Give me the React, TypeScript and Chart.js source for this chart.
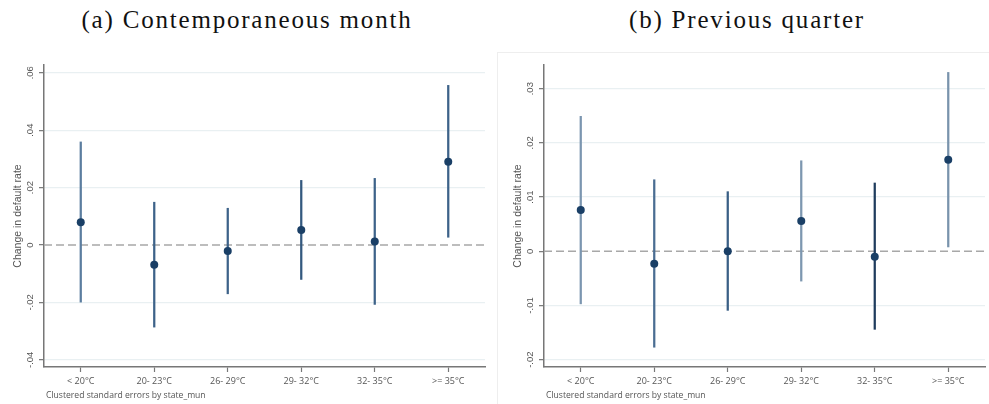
import React, { useEffect, useRef } from 'react';
import { Chart, registerables } from 'chart.js';
Chart.register(...registerables);

const categories = ['< 20°C', '20- 23°C', '26- 29°C', '29- 32°C', '32- 35°C', '>= 35°C'];

const pointA = [0.0079, -0.0069, -0.0021, 0.0052, 0.0012, 0.029];
const lowA = [-0.0199, -0.0286, -0.017, -0.012, -0.0207, 0.0027];
const highA = [0.0359, 0.0149, 0.0128, 0.0225, 0.0232, 0.0556];

const pointB = [0.0076, -0.0023, 0.0, 0.0056, -0.001, 0.0169];
const lowB = [-0.0097, -0.0177, -0.0109, -0.0055, -0.0144, 0.0008];
const highB = [0.0249, 0.0132, 0.011, 0.0167, 0.0126, 0.033];

const yTicksA = [-0.04, -0.02, 0, 0.02, 0.04, 0.06];
const yTickLabelsA = ['-.04', '-.02', '0', '.02', '.04', '.06'];
const yRangeA = [-0.0425, 0.0627];

const yTicksB = [-0.02, -0.01, 0, 0.01, 0.02, 0.03];
const yTickLabelsB = ['-.02', '-.01', '0', '.01', '.02', '.03'];
const yRangeB = [-0.02135, 0.03437];

const titleA = '(a) Contemporaneous month';
const titleB = '(b) Previous quarter';
const yTitle = 'Change in default rate';
const note = 'Clustered standard errors by state_mun';

const barColorsA = ['#5b7d9f', '#3d6289', '#3d6289', '#34597f', '#3d6289', '#3d6289'];
const barColorsB = ['#7b96b0', '#4a6d92', '#3a5f85', '#7d97b0', '#1f3c5d', '#7993ac'];

const zeroLinePlugin = {
  id: 'zeroLine',
  beforeDatasetsDraw(chart: any) {
    const y = chart.scales.y.getPixelForValue(0);
    const { left, right } = chart.chartArea;
    const ctx = chart.ctx;
    ctx.save();
    ctx.strokeStyle = '#a8a8a8';
    ctx.lineWidth = 1.4;
    ctx.setLineDash([8, 4]);
    ctx.beginPath();
    ctx.moveTo(left, y);
    ctx.lineTo(right, y);
    ctx.stroke();
    ctx.restore();
  },
};

function Panel(props: {
  left: number; width: number; point: number[]; low: number[]; high: number[];
  ticks: number[]; tickLabels: string[]; range: number[]; colors: string[]; padRight: number;
}) {
  const ref = useRef<HTMLCanvasElement>(null);
  useEffect(() => {
    const { point, low, high, ticks, tickLabels, range, colors, padRight } = props;
    const chart = new Chart(ref.current as HTMLCanvasElement, {
      type: 'bar',
      data: {
        labels: categories,
        datasets: [
          {
            type: 'line',
            data: point,
            showLine: false,
            pointRadius: 4,
            pointHoverRadius: 4,
            pointBackgroundColor: '#1a3f66',
            pointBorderWidth: 0,
            order: 0,
          } as any,
          {
            type: 'bar',
            data: low.map((l, i) => [l, high[i]]),
            backgroundColor: colors,
            borderWidth: 0,
            barThickness: 1.6,
            order: 1,
          } as any,
        ],
      },
      options: {
        responsive: false,
        animation: false,
        events: [],
        layout: { padding: { left: 10, right: padRight, top: 15, bottom: 15 } },
        plugins: { legend: { display: false }, tooltip: { enabled: false } },
        scales: {
          x: {
            type: 'category',
            offset: true,
            grid: { display: true, drawOnChartArea: false, drawTicks: true, tickLength: 5, tickColor: '#777', tickWidth: 1.2, offset: false },
            border: { color: '#777', width: 1.5 },
            ticks: { color: '#555', font: { family: 'Open Sans', size: 9 }, padding: 4, maxRotation: 0, autoSkip: false },
            afterFit: (s: any) => { s.height = 22; },
          },
          y: {
            type: 'linear',
            min: range[0],
            max: range[1],
            afterBuildTicks: (s: any) => { s.ticks = ticks.map((v) => ({ value: v })); },
            grid: {
              color: (c: any) => (c.tick && Math.abs(c.tick.value) < 1e-9 ? 'rgba(0,0,0,0)' : '#e9f0f2'),
              lineWidth: 1.3,
              drawTicks: true,
              tickLength: 5,
              tickColor: '#777',
              tickWidth: 1.2,
            },
            border: { color: '#777', width: 1.5 },
            ticks: {
              color: '#555',
              font: { family: 'Liberation Sans', size: 9.5 },
              padding: 0,
              minRotation: 90,
              maxRotation: 90,
              crossAlign: 'center',
              callback: (v: any) => {
                const i = ticks.findIndex((t) => Math.abs(t - Number(v)) < 1e-9);
                return i >= 0 ? tickLabels[i] : '';
              },
            },
            title: { display: true, text: yTitle, color: '#555', font: { family: 'Liberation Sans', size: 10.5 }, padding: { top: 2, bottom: 0 } },
            afterFit: (s: any) => { s.width = 34; },
          },
        },
      },
      plugins: [zeroLinePlugin],
    });
    return () => chart.destroy();
  }, []);
  return (
    <canvas
      ref={ref}
      width={props.width}
      height={354}
      style={{ position: 'absolute', left: props.left, top: 50, width: props.width, height: 354 }}
    />
  );
}

export default function App() {
  useEffect(() => {
    document.body.style.margin = '0';
    document.body.style.background = '#fff';
  }, []);
  const titleStyle: React.CSSProperties = {
    position: 'absolute', top: 6, width: 440, textAlign: 'center',
    fontFamily: '"Liberation Serif", serif', fontSize: 25, color: '#111', whiteSpace: 'nowrap', letterSpacing: 1.8,
  };
  const noteStyle: React.CSSProperties = {
    position: 'absolute', top: 389, fontFamily: '"Open Sans", sans-serif', fontSize: 8.6, color: '#555', whiteSpace: 'nowrap',
  };
  return (
    <div style={{ position: 'relative', width: 989, height: 404, background: '#fff', overflow: 'hidden' }}>
      <div style={{ position: 'absolute', left: 497, top: 52, width: 500, height: 400, border: '1px solid #eeeeee' }} />
      <div style={{ ...titleStyle, left: 247 - 220 }}>{titleA}</div>
      <div style={{ ...titleStyle, left: 747 - 220 }}>{titleB}</div>
      <Panel left={0} width={495} point={pointA} low={lowA} high={highA} ticks={yTicksA} tickLabels={yTickLabelsA} range={yRangeA} colors={barColorsA} padRight={10} />
      <Panel left={500} width={489} point={pointB} low={lowB} high={highB} ticks={yTicksB} tickLabels={yTickLabelsB} range={yRangeB} colors={barColorsB} padRight={4} />
      <div style={{ ...noteStyle, left: 46 }}>{note}</div>
      <div style={{ ...noteStyle, left: 546 }}>{note}</div>
    </div>
  );
}
